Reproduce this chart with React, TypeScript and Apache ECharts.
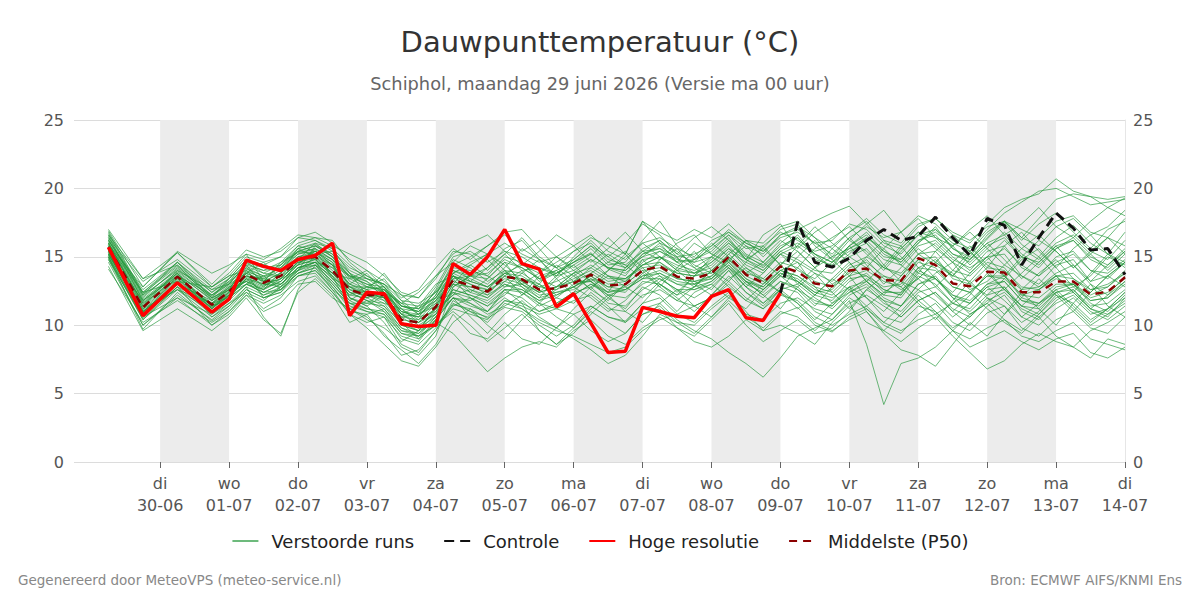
import { useEffect, useRef } from 'react';
import * as echarts from 'echarts';

// Hours relative to di 30-06 00:00
const TIMES = [-18, -6, 6, 18, 24, 30, 36, 42, 48, 54, 60, 66, 72, 78, 84, 90, 96, 102, 108, 114, 120, 126, 132, 138, 144, 150, 156, 162, 168, 174, 180, 186, 192, 198, 204, 210, 216, 222, 228, 234, 240, 246, 252, 258, 264, 270, 276, 282, 288, 294, 300, 306, 312, 318, 324, 330, 336];

const HRES = [15.7, 10.7, 13.1, 10.95, 11.9, 14.75, 14.3, 14.0, 14.8, 15.1, 16.0, 10.7, 12.4, 12.3, 10.1, 9.9, 10.0, 14.5, 13.7, 15.0, 17.0, 14.5, 14.1, 11.35, 12.3, 10.15, 8.0, 8.1, 11.3, 11.0, 10.65, 10.55, 12.1, 12.6, 10.55, 10.35, 12.35];

const CONTROL = [null, null, null, null, null, null, null, null, null, null, null, null, null, null, null, null, null, null, null, null, null, null, null, null, null, null, null, null, null, null, null, null, null, null, null, null, 12.35, 17.55, 14.6, 14.25, 14.9, 16.2, 17.0, 16.2, 16.5, 17.9, 16.4, 15.1, 17.8, 17.3, 14.4, 16.4, 18.2, 17.1, 15.5, 15.6, 13.7];

const P50 = [15.7, 11.3, 13.55, 11.5, 12.45, 13.7, 13.1, 13.6, 14.8, 15.0, 14.0, 12.6, 12.2, 12.2, 10.4, 10.2, 11.35, 13.3, 12.9, 12.45, 13.55, 13.35, 12.6, 12.7, 13.05, 13.7, 12.9, 13.0, 14.0, 14.3, 13.55, 13.4, 13.8, 15.0, 13.7, 13.1, 14.3, 13.9, 13.05, 12.85, 14.0, 14.15, 13.3, 13.25, 14.9, 14.4, 13.05, 12.85, 13.9, 13.85, 12.4, 12.4, 13.2, 13.2, 12.25, 12.45, 13.5];

const RUNS = [
  [16.2, 12.0, 14.2, 12.1, 13.0, 14.5, 14.0, 14.6, 15.3, 15.6, 14.8, 13.5, 13.0, 12.4, 11.2, 11.0, 12.5, 14.2, 14.0, 13.6, 15.0, 14.6, 13.2, 13.8, 14.6, 15.3, 14.1, 13.6, 15.2, 15.8, 14.9, 14.2, 15.0, 16.2, 15.1, 14.3, 15.6, 16.4, 15.0, 14.2, 15.8, 16.6, 15.2, 14.6, 16.0, 17.2, 15.6, 14.8, 16.3, 17.5, 15.9, 15.0, 16.4, 17.3, 16.0, 15.2, 16.8],
  [15.0, 9.7, 12.4, 10.3, 11.2, 12.6, 12.0, 12.4, 13.6, 14.0, 12.8, 11.4, 11.0, 10.6, 8.6, 8.0, 9.6, 11.5, 11.2, 10.5, 11.3, 11.0, 10.0, 9.2, 10.0, 11.4, 10.6, 10.3, 11.6, 12.0, 10.8, 10.2, 11.4, 12.4, 11.0, 9.6, 10.8, 11.3, 10.0, 9.5, 10.6, 11.2, 10.0, 9.4, 10.8, 11.6, 10.2, 9.6, 10.9, 11.4, 9.8, 9.2, 10.4, 11.0, 9.8, 9.4, 10.6],
  [16.5, 11.8, 13.8, 11.2, 12.2, 14.0, 13.4, 13.2, 14.5, 15.4, 14.6, 12.0, 11.4, 10.2, 8.4, 7.8, 9.2, 12.8, 13.6, 13.0, 14.2, 15.6, 14.8, 13.4, 12.2, 13.0, 12.4, 14.2, 15.4, 16.2, 15.0, 13.2, 12.6, 14.0, 12.8, 11.6, 12.6, 14.2, 15.6, 16.4, 17.2, 16.0, 14.4, 13.2, 12.6, 13.8, 14.6, 13.0, 12.2, 13.4, 14.8, 15.6, 14.2, 12.8, 13.6, 15.0, 14.4],
  [15.4, 11.0, 13.0, 11.8, 12.8, 13.2, 12.6, 13.9, 15.2, 15.6, 13.4, 12.2, 12.8, 13.4, 11.8, 10.8, 11.6, 12.4, 11.6, 10.8, 11.4, 12.2, 13.6, 14.0, 12.8, 12.0, 11.0, 11.8, 13.2, 13.0, 12.2, 13.6, 14.6, 15.8, 14.4, 13.8, 15.2, 14.6, 12.8, 11.6, 12.4, 13.2, 12.0, 11.4, 13.0, 13.6, 12.0, 10.8, 11.6, 12.8, 11.0, 10.4, 11.8, 12.6, 11.2, 10.6, 12.0],
  [16.8, 12.4, 14.6, 12.6, 13.4, 14.8, 14.4, 14.0, 15.0, 15.2, 15.4, 14.2, 13.6, 12.8, 11.6, 11.4, 12.0, 13.8, 14.6, 15.2, 16.0, 15.2, 14.6, 15.0, 15.8, 16.6, 15.4, 14.8, 16.0, 16.4, 15.6, 15.0, 16.2, 16.8, 15.8, 15.2, 16.6, 17.2, 16.4, 15.6, 16.8, 17.6, 16.2, 15.8, 17.2, 17.8, 16.6, 16.0, 17.4, 18.6, 19.2, 19.6, 20.7, 19.8, 19.4, 18.6, 19.3],
  [14.8, 10.6, 12.0, 10.8, 11.6, 12.4, 11.8, 12.8, 14.0, 14.4, 13.2, 11.8, 11.2, 11.0, 9.6, 9.4, 10.4, 12.0, 11.4, 11.0, 12.4, 12.0, 11.0, 11.6, 12.4, 12.8, 11.6, 11.4, 12.6, 13.4, 12.6, 12.0, 12.8, 14.0, 12.4, 11.6, 12.8, 12.4, 11.0, 10.4, 11.8, 8.6, 4.2, 7.2, 7.6, 8.4, 9.6, 10.8, 11.6, 10.4, 9.6, 10.8, 12.2, 11.6, 10.4, 11.2, 12.0],
  [16.0, 11.5, 13.6, 11.6, 12.8, 13.8, 13.3, 13.0, 14.2, 14.6, 14.2, 13.0, 12.6, 13.8, 12.2, 11.2, 12.0, 13.6, 12.6, 12.0, 13.0, 12.6, 11.8, 12.6, 13.6, 14.4, 13.6, 13.4, 14.4, 15.0, 14.0, 13.8, 14.2, 15.4, 14.6, 14.0, 15.4, 14.8, 14.0, 13.8, 15.0, 15.6, 14.2, 13.6, 15.2, 16.0, 14.8, 14.2, 15.0, 15.2, 13.6, 13.0, 14.4, 14.8, 13.2, 13.6, 14.6],
  [15.2, 10.8, 13.2, 11.0, 12.0, 13.4, 12.8, 13.6, 15.0, 14.8, 13.6, 12.4, 11.8, 11.6, 10.0, 9.6, 10.2, 9.4, 8.0, 6.6, 7.6, 8.4, 8.8, 8.4, 9.6, 10.4, 9.2, 8.6, 9.8, 10.6, 9.8, 9.2, 10.4, 11.6, 10.0, 8.8, 9.6, 10.4, 9.4, 9.8, 11.0, 12.6, 11.8, 10.6, 11.8, 12.4, 11.0, 10.0, 11.4, 12.2, 10.6, 10.0, 11.2, 12.0, 10.8, 11.2, 12.4],
  [16.4, 12.2, 14.0, 12.0, 12.6, 14.2, 13.6, 14.2, 15.6, 16.0, 15.0, 13.2, 12.6, 11.8, 10.6, 10.8, 12.6, 14.8, 14.2, 13.2, 14.0, 13.8, 13.0, 12.2, 12.8, 13.6, 12.6, 12.4, 13.8, 14.6, 13.6, 12.8, 13.2, 14.4, 13.0, 12.4, 13.6, 13.2, 12.2, 11.8, 13.2, 13.8, 12.6, 12.2, 14.0, 13.4, 12.0, 11.6, 13.0, 13.6, 12.0, 11.6, 12.8, 13.0, 11.8, 12.0, 13.2],
  [15.6, 11.2, 13.4, 11.4, 12.2, 13.4, 13.0, 13.4, 14.6, 14.6, 13.8, 12.8, 12.4, 12.0, 10.2, 9.8, 11.0, 13.0, 12.4, 12.0, 13.2, 12.8, 12.0, 12.4, 12.8, 13.4, 12.4, 12.8, 13.6, 13.8, 13.0, 13.0, 13.4, 14.6, 13.2, 12.6, 13.8, 13.4, 12.4, 12.0, 12.8, 12.0, 10.6, 10.2, 11.4, 11.0, 9.6, 8.4, 9.0, 9.6, 8.8, 8.2, 9.0, 9.4, 8.0, 7.6, 8.4],
  [15.8, 11.6, 13.8, 11.8, 12.6, 13.6, 13.4, 14.0, 15.4, 15.8, 15.2, 13.4, 12.8, 12.6, 11.4, 11.0, 12.2, 14.4, 15.0, 15.8, 16.8, 17.0, 15.6, 14.2, 14.8, 15.8, 14.6, 14.2, 15.6, 16.2, 15.2, 14.6, 15.0, 16.0, 14.8, 14.0, 15.2, 15.8, 14.8, 14.4, 15.6, 16.2, 15.0, 14.8, 16.2, 16.6, 15.2, 14.6, 15.8, 16.4, 15.0, 14.6, 15.8, 16.2, 15.0, 14.4, 15.4],
  [15.0, 10.4, 12.6, 10.6, 11.6, 12.8, 12.2, 12.8, 13.8, 14.4, 12.8, 11.2, 10.6, 9.4, 7.8, 8.2, 9.6, 11.8, 11.0, 10.2, 11.6, 11.2, 10.4, 9.8, 9.0, 8.2, 7.2, 7.8, 9.2, 10.8, 10.2, 10.0, 11.2, 12.2, 10.8, 10.4, 11.6, 12.0, 11.2, 10.8, 12.2, 12.8, 11.6, 11.0, 12.4, 12.8, 11.6, 11.0, 12.2, 12.6, 11.4, 10.8, 12.0, 12.4, 11.2, 10.8, 11.8],
  [16.6, 13.4, 14.4, 12.4, 13.2, 14.6, 14.2, 14.4, 15.8, 16.2, 15.6, 14.4, 13.4, 12.6, 11.0, 10.6, 12.0, 14.0, 13.4, 12.8, 13.8, 14.4, 13.8, 14.6, 15.4, 16.0, 14.8, 14.4, 15.4, 15.6, 14.6, 14.8, 15.4, 16.6, 15.6, 15.8, 16.8, 16.2, 15.4, 15.8, 16.8, 17.8, 16.6, 16.0, 17.4, 17.8, 16.8, 16.2, 17.2, 17.6, 16.4, 15.8, 17.2, 17.8, 16.6, 17.2, 18.4],
  [15.3, 11.0, 13.2, 11.2, 12.4, 13.2, 12.6, 13.2, 14.4, 14.8, 13.6, 12.2, 12.0, 12.4, 10.8, 10.0, 10.8, 12.6, 12.2, 11.8, 12.8, 13.0, 12.4, 12.8, 13.4, 14.0, 13.2, 13.4, 14.4, 14.6, 13.8, 13.6, 14.0, 15.0, 13.6, 13.0, 14.0, 13.6, 12.8, 12.4, 13.6, 14.0, 13.2, 12.8, 14.2, 14.0, 12.8, 12.4, 13.6, 13.4, 12.2, 12.6, 13.4, 13.0, 12.2, 12.8, 13.8],
  [15.9, 11.4, 13.6, 11.4, 12.4, 13.8, 13.2, 13.8, 14.8, 15.2, 14.2, 12.8, 12.2, 11.8, 10.2, 9.6, 10.8, 13.0, 12.8, 12.6, 13.8, 13.6, 12.8, 12.6, 13.2, 13.8, 13.0, 13.2, 14.4, 15.0, 14.2, 13.8, 14.4, 15.6, 14.2, 13.2, 12.4, 11.6, 10.2, 9.6, 10.4, 11.0, 9.6, 8.8, 9.8, 10.6, 9.2, 8.0, 6.8, 7.4, 8.6, 9.4, 8.8, 8.4, 9.6, 10.2, 11.0],
  [14.1, 10.2, 11.8, 10.2, 11.0, 12.2, 11.6, 12.2, 13.2, 13.6, 12.4, 11.0, 10.8, 11.2, 9.8, 9.2, 10.0, 11.2, 10.8, 10.4, 11.8, 11.6, 11.0, 11.4, 12.2, 13.0, 12.2, 12.0, 13.0, 13.6, 13.0, 12.6, 13.0, 14.2, 13.2, 12.8, 14.0, 14.6, 13.8, 13.2, 14.4, 15.0, 14.2, 13.8, 15.2, 15.4, 14.0, 13.6, 14.8, 15.6, 14.4, 13.6, 14.6, 15.2, 14.0, 13.8, 14.8],
  [16.9, 12.8, 15.3, 12.8, 13.6, 15.0, 14.6, 15.0, 16.0, 16.4, 16.2, 14.6, 13.6, 13.0, 11.4, 11.2, 12.8, 15.0, 15.4, 14.6, 15.4, 15.0, 14.2, 13.8, 14.4, 15.2, 14.2, 14.0, 15.0, 15.4, 14.8, 14.6, 15.8, 17.0, 16.0, 15.4, 16.6, 17.0, 16.0, 15.2, 16.4, 17.2, 16.4, 16.8, 18.0, 17.4, 16.2, 15.6, 17.0, 18.2, 19.0, 19.8, 20.0, 19.4, 18.8, 19.0, 19.2],
  [15.5, 11.1, 13.3, 11.3, 12.3, 13.5, 12.9, 13.4, 14.6, 14.9, 13.8, 12.4, 12.2, 12.0, 10.4, 10.2, 11.2, 13.2, 12.8, 12.4, 13.4, 13.0, 12.2, 12.4, 12.6, 13.4, 12.8, 13.0, 14.0, 14.2, 13.4, 13.2, 13.6, 14.8, 13.4, 12.8, 14.0, 13.6, 12.6, 12.2, 13.4, 13.6, 12.8, 13.0, 14.6, 14.2, 12.8, 12.4, 13.6, 13.6, 12.2, 12.0, 13.0, 13.0, 12.0, 12.4, 13.4],
  [15.2, 10.9, 13.0, 11.0, 12.0, 13.0, 12.4, 13.0, 14.2, 14.6, 13.4, 12.0, 11.6, 11.4, 9.8, 9.4, 10.6, 12.4, 12.0, 11.4, 12.6, 12.4, 11.6, 11.2, 10.8, 11.4, 10.6, 10.2, 11.2, 11.6, 10.4, 9.6, 9.0, 8.0, 7.2, 6.2, 7.6, 9.2, 9.8, 10.4, 11.6, 12.2, 11.4, 10.6, 11.8, 12.4, 11.2, 10.6, 11.8, 12.4, 11.2, 10.6, 11.6, 12.2, 11.0, 10.4, 11.4],
  [16.3, 12.1, 14.1, 12.2, 13.1, 14.3, 13.8, 14.4, 15.6, 15.9, 15.2, 13.8, 13.2, 12.4, 10.8, 10.6, 12.2, 14.6, 15.8, 15.2, 14.4, 13.2, 12.4, 13.6, 14.8, 15.8, 15.0, 14.2, 15.0, 16.0, 15.4, 14.4, 13.8, 15.2, 16.2, 16.0, 17.2, 17.6, 16.4, 15.0, 15.6, 16.4, 15.4, 14.8, 16.2, 16.8, 15.8, 14.4, 15.6, 16.8, 15.6, 14.8, 16.0, 16.6, 15.4, 14.8, 16.2],
  [15.1, 10.5, 12.8, 11.6, 12.6, 13.2, 12.2, 12.6, 13.8, 14.2, 12.6, 10.8, 10.2, 10.6, 9.2, 8.8, 10.4, 12.8, 13.6, 14.2, 15.2, 14.0, 12.6, 11.6, 12.4, 13.8, 14.6, 15.4, 14.2, 13.0, 12.2, 12.8, 14.0, 15.2, 14.0, 13.2, 14.4, 15.4, 14.2, 13.0, 13.8, 14.8, 13.4, 12.6, 13.4, 14.6, 13.8, 12.6, 13.2, 14.4, 13.6, 12.8, 13.8, 14.4, 13.0, 12.2, 13.6],
  [15.8, 11.7, 13.7, 11.9, 12.9, 13.9, 13.5, 14.2, 15.2, 15.4, 14.6, 13.0, 12.4, 12.2, 10.6, 10.4, 11.8, 13.8, 13.2, 12.8, 13.6, 13.4, 12.8, 13.2, 13.8, 14.2, 13.4, 13.4, 14.2, 14.4, 13.8, 13.6, 13.8, 14.8, 13.8, 13.4, 14.6, 14.2, 13.2, 12.8, 14.2, 14.6, 13.6, 13.2, 14.8, 15.0, 13.4, 13.0, 14.2, 14.0, 12.8, 12.6, 13.6, 13.8, 12.6, 12.8, 14.0],
  [14.6, 10.0, 12.2, 10.4, 11.4, 12.6, 12.0, 12.6, 13.6, 14.0, 12.6, 11.6, 11.2, 10.8, 9.0, 8.6, 9.8, 11.6, 11.0, 10.6, 11.8, 11.4, 10.8, 11.2, 11.8, 12.2, 11.2, 11.0, 12.2, 12.6, 11.8, 11.4, 12.0, 13.2, 12.0, 11.2, 12.2, 11.8, 10.6, 10.0, 10.8, 11.4, 10.2, 9.6, 10.4, 10.8, 9.6, 9.0, 9.8, 10.4, 9.2, 8.8, 9.6, 10.2, 9.0, 8.6, 8.2],
  [16.1, 11.9, 13.9, 12.0, 12.7, 14.1, 13.6, 13.6, 14.8, 15.4, 14.8, 13.6, 13.4, 13.0, 11.8, 11.6, 12.4, 13.6, 13.0, 12.6, 13.2, 14.0, 14.2, 13.6, 14.0, 14.8, 14.2, 13.8, 14.8, 15.0, 14.4, 14.0, 14.6, 15.6, 14.8, 14.2, 15.4, 16.0, 15.2, 14.6, 15.4, 16.0, 14.8, 14.4, 15.8, 16.2, 15.0, 14.0, 15.4, 15.8, 14.2, 13.6, 15.0, 15.4, 14.0, 13.4, 14.6],
  [15.6, 11.3, 13.5, 11.5, 12.5, 13.6, 13.0, 13.0, 14.0, 14.6, 13.0, 11.6, 11.6, 12.4, 11.0, 10.6, 11.0, 12.2, 12.6, 12.2, 13.0, 12.4, 11.4, 12.0, 13.0, 13.2, 12.2, 12.6, 13.4, 13.4, 12.6, 12.6, 13.2, 14.2, 12.8, 12.0, 13.2, 12.6, 11.8, 11.4, 12.8, 13.2, 12.2, 12.0, 13.6, 13.0, 11.6, 11.2, 12.6, 12.8, 11.4, 11.2, 12.4, 12.6, 11.4, 11.6, 12.6],
  [16.0, 11.6, 13.4, 11.2, 12.2, 13.6, 13.2, 13.8, 15.0, 15.4, 14.4, 12.6, 12.0, 12.6, 11.4, 11.0, 11.8, 13.4, 13.6, 13.8, 14.8, 14.2, 13.4, 14.0, 14.6, 15.6, 14.4, 14.6, 16.2, 17.6, 15.8, 14.8, 15.6, 16.6, 15.2, 14.6, 16.0, 17.0, 17.6, 18.2, 18.7, 17.4, 16.0, 15.6, 16.8, 16.4, 15.2, 14.8, 16.0, 16.6, 15.2, 14.4, 15.6, 16.2, 14.8, 14.2, 15.4],
  [15.4, 11.0, 13.1, 11.6, 12.4, 13.0, 12.6, 13.4, 14.6, 15.0, 14.0, 12.6, 12.4, 12.0, 10.0, 9.6, 11.2, 13.6, 13.2, 12.8, 13.8, 13.2, 12.4, 12.8, 13.2, 13.2, 12.4, 12.6, 13.4, 13.8, 13.2, 13.0, 13.6, 14.6, 13.4, 12.6, 13.8, 13.2, 12.4, 12.6, 14.0, 13.6, 12.4, 12.4, 14.2, 14.8, 13.6, 13.2, 14.6, 14.2, 12.6, 12.8, 13.6, 13.4, 12.6, 13.0, 13.8],
  [15.0, 10.7, 12.8, 10.8, 11.8, 13.0, 12.4, 12.6, 13.8, 14.2, 13.0, 11.6, 11.0, 10.8, 9.4, 9.0, 10.4, 12.0, 11.6, 11.0, 12.0, 11.2, 10.2, 9.6, 9.2, 8.6, 8.0, 8.4, 9.6, 10.4, 10.8, 11.4, 12.0, 13.0, 11.8, 11.2, 12.6, 13.0, 12.0, 11.2, 12.4, 13.0, 11.8, 11.4, 13.0, 13.4, 12.2, 11.6, 12.8, 13.2, 11.8, 11.4, 12.6, 13.0, 11.6, 11.0, 12.2],
  [16.7, 12.3, 14.3, 12.2, 13.0, 14.4, 14.0, 14.2, 15.4, 15.8, 15.0, 13.6, 13.0, 12.8, 11.4, 11.2, 12.4, 14.0, 13.6, 13.4, 14.6, 14.2, 13.4, 13.8, 14.6, 15.2, 14.2, 14.0, 15.2, 15.6, 15.0, 15.2, 15.8, 16.8, 16.0, 15.4, 16.4, 16.8, 16.0, 16.2, 17.4, 17.0, 15.8, 15.2, 16.6, 17.0, 16.0, 15.4, 16.8, 17.6, 17.0, 16.4, 17.6, 18.0, 16.8, 16.4, 17.8],
  [15.3, 10.9, 13.0, 11.3, 12.1, 13.3, 12.7, 13.2, 14.4, 14.8, 13.8, 12.4, 11.8, 11.2, 9.6, 9.2, 10.6, 12.6, 12.2, 11.6, 12.6, 12.6, 11.8, 12.2, 12.8, 13.6, 12.8, 12.6, 13.6, 14.0, 13.4, 13.2, 13.4, 14.4, 13.2, 12.2, 13.2, 12.8, 11.6, 11.4, 12.6, 13.4, 12.6, 12.2, 13.8, 13.4, 12.2, 11.8, 13.0, 13.2, 11.8, 11.6, 12.4, 12.8, 11.8, 12.0, 13.0],
  [17.0, 13.4, 15.3, 13.0, 14.2, 15.5, 15.0, 15.4, 16.4, 16.8, 16.0, 14.8, 14.0, 13.2, 12.0, 12.6, 14.2, 15.6, 14.8, 15.8, 16.6, 15.4, 16.2, 15.0, 14.2, 15.0, 16.4, 15.2, 17.6, 16.0, 14.6, 16.0, 15.2, 16.4, 14.8, 16.6, 17.4, 15.6, 16.8, 17.6, 16.2, 17.4, 18.4, 16.8, 17.8, 16.4, 15.8, 17.0, 18.0, 16.6, 17.4, 18.6, 17.2, 16.4, 17.6, 18.6, 18.0],
  [14.3, 9.6, 11.2, 9.6, 10.6, 12.0, 10.4, 9.4, 12.4, 13.4, 12.2, 10.2, 10.8, 9.2, 8.2, 7.2, 8.6, 10.8, 9.4, 9.0, 10.2, 9.0, 8.6, 9.8, 10.8, 9.6, 8.8, 9.4, 10.8, 11.2, 9.8, 8.8, 8.4, 9.2, 10.4, 9.6, 10.0, 9.4, 8.6, 10.2, 11.4, 10.2, 9.6, 10.8, 12.2, 11.0, 9.8, 10.6, 12.0, 11.4, 10.2, 11.0, 12.4, 11.2, 10.0, 10.8, 11.6],
  [15.9, 12.8, 15.4, 13.8, 14.4, 15.2, 14.8, 15.6, 16.6, 16.4, 15.8, 15.2, 14.6, 13.6, 12.4, 12.0, 13.6, 15.2, 16.0, 16.6, 15.4, 14.4, 15.4, 16.6, 15.8, 14.6, 15.6, 16.8, 15.4, 14.8, 16.0, 16.6, 15.2, 14.6, 16.2, 15.6, 14.4, 15.8, 17.2, 16.0, 15.0, 14.2, 15.6, 16.8, 15.2, 14.4, 13.6, 15.2, 16.4, 17.6, 16.2, 17.4, 18.2, 16.8, 15.6, 17.0, 17.6],
  [15.1, 11.8, 13.8, 10.6, 11.4, 12.8, 10.6, 9.2, 12.6, 14.4, 13.6, 11.2, 10.4, 9.8, 8.8, 9.6, 11.4, 13.4, 12.0, 11.0, 12.6, 11.6, 9.6, 8.6, 9.4, 10.8, 12.0, 11.2, 12.8, 12.2, 11.0, 12.4, 13.0, 12.0, 11.2, 12.6, 13.6, 12.6, 11.4, 12.8, 13.6, 12.0, 11.0, 12.4, 13.4, 12.2, 11.0, 12.2, 13.8, 12.6, 11.4, 12.6, 13.6, 12.4, 11.2, 12.2, 13.2],
  [16.4, 13.2, 14.8, 12.8, 13.8, 15.2, 13.2, 14.6, 15.8, 15.4, 14.4, 13.0, 13.8, 12.4, 11.6, 12.4, 13.6, 14.6, 13.2, 14.2, 15.6, 16.2, 14.8, 13.6, 15.0, 16.2, 15.0, 16.0, 17.4, 16.6, 15.2, 16.4, 17.2, 16.2, 14.8, 15.6, 17.0, 17.4, 15.8, 14.8, 16.2, 15.4, 14.2, 15.6, 16.8, 15.6, 14.6, 15.8, 14.4, 13.6, 15.0, 16.2, 15.4, 14.2, 15.2, 16.4, 15.8],
  [14.9, 10.4, 12.8, 10.0, 11.0, 12.4, 11.2, 12.0, 13.6, 13.8, 12.4, 10.8, 9.8, 8.6, 7.4, 7.0, 8.4, 10.2, 11.2, 10.0, 9.0, 10.4, 11.6, 10.6, 9.8, 11.2, 12.2, 11.0, 10.2, 11.6, 12.6, 11.4, 10.6, 12.0, 13.2, 12.2, 11.2, 12.8, 13.8, 12.4, 11.2, 12.6, 13.6, 12.8, 11.6, 10.4, 11.8, 13.2, 12.0, 10.8, 12.0, 13.4, 12.2, 11.0, 12.4, 13.6, 12.8],
  [15.7, 11.4, 14.0, 12.6, 13.0, 13.8, 14.6, 13.4, 14.0, 15.8, 15.0, 13.8, 12.2, 11.6, 11.2, 10.4, 11.2, 12.2, 13.8, 14.8, 13.6, 12.2, 13.0, 14.4, 13.6, 12.6, 14.0, 15.2, 13.8, 12.8, 14.2, 15.4, 14.0, 13.2, 14.6, 15.8, 14.4, 13.0, 14.2, 15.6, 14.6, 13.2, 14.4, 15.8, 14.2, 12.8, 14.0, 15.4, 14.0, 12.6, 13.8, 15.0, 13.6, 12.4, 13.8, 15.2, 14.2],
  [15.5, 11.0, 12.6, 11.6, 12.0, 13.0, 13.6, 12.6, 14.2, 14.6, 13.4, 12.8, 12.0, 11.4, 10.2, 9.0, 10.0, 11.4, 12.0, 11.4, 12.2, 13.4, 13.0, 12.0, 11.6, 12.8, 13.6, 12.8, 12.0, 13.2, 14.0, 13.0, 12.2, 13.4, 14.2, 13.4, 12.4, 11.2, 12.2, 13.4, 12.6, 11.4, 12.4, 13.2, 11.8, 10.8, 11.6, 12.4, 11.2, 10.2, 9.4, 10.6, 9.2, 8.4, 7.6, 9.0, 8.6],
  [16.2, 12.4, 13.2, 12.8, 13.6, 14.0, 12.8, 13.8, 15.6, 15.0, 13.8, 13.4, 14.0, 12.8, 10.8, 11.4, 13.0, 13.6, 12.4, 13.4, 14.6, 13.0, 12.0, 13.4, 14.4, 13.2, 12.0, 13.0, 14.8, 13.6, 12.4, 13.6, 15.0, 14.2, 12.8, 13.8, 15.2, 14.0, 13.4, 14.6, 15.8, 14.4, 13.0, 14.2, 15.6, 14.6, 13.6, 14.8, 16.0, 14.8, 13.4, 14.6, 15.8, 14.4, 13.2, 14.4, 15.6],
  [16.6, 12.2, 14.6, 12.4, 13.4, 14.8, 14.4, 15.0, 16.4, 16.2, 15.4, 14.0, 13.4, 13.0, 12.2, 12.0, 13.4, 15.4, 15.2, 14.0, 15.2, 16.4, 15.0, 14.2, 15.4, 16.4, 15.8, 15.2, 17.6, 16.8, 16.2, 17.0, 16.4, 17.4, 16.2, 15.0, 16.2, 15.4, 14.2, 15.0, 16.4, 15.2, 14.0, 15.4, 16.6, 15.8, 14.6, 13.8, 15.0, 16.2, 15.0, 14.2, 15.6, 16.4, 15.2, 14.0, 15.2],
  [15.2, 10.8, 13.6, 11.4, 11.8, 13.8, 12.0, 12.4, 14.0, 15.0, 14.4, 12.0, 11.4, 12.2, 10.6, 9.8, 10.6, 12.0, 10.6, 9.4, 10.8, 11.8, 10.6, 9.8, 11.2, 12.4, 11.4, 10.2, 11.6, 13.0, 12.0, 11.0, 12.2, 13.6, 12.4, 11.4, 12.6, 11.6, 10.4, 11.6, 12.8, 11.0, 9.4, 8.2, 7.8, 7.0, 8.6, 10.2, 9.2, 10.8, 12.4, 11.2, 10.0, 11.6, 13.0, 11.4, 10.6],
  [15.8, 12.4, 14.4, 11.8, 12.6, 14.6, 13.8, 13.6, 14.4, 15.6, 14.8, 12.8, 12.8, 12.6, 11.6, 10.8, 11.4, 13.8, 14.4, 13.6, 12.8, 13.8, 14.8, 14.2, 13.2, 14.2, 15.2, 14.4, 13.4, 14.8, 15.6, 14.2, 13.4, 14.8, 15.8, 14.6, 13.6, 15.0, 16.2, 14.8, 13.6, 15.0, 16.2, 15.0, 13.8, 15.4, 16.6, 15.4, 14.2, 15.8, 16.8, 15.4, 14.2, 15.6, 16.6, 15.2, 14.6],
  [14.8, 10.0, 12.0, 10.0, 10.8, 12.2, 11.0, 11.6, 13.0, 13.2, 12.0, 11.2, 11.8, 11.0, 9.4, 9.2, 10.0, 11.0, 10.0, 8.8, 9.8, 10.8, 9.6, 8.6, 9.8, 11.0, 10.2, 9.4, 10.8, 11.4, 10.2, 9.4, 10.6, 11.8, 10.6, 9.8, 11.0, 10.6, 9.6, 10.8, 12.0, 11.2, 10.2, 11.4, 12.6, 11.8, 10.6, 11.6, 12.8, 11.8, 10.6, 11.6, 12.6, 11.4, 10.2, 11.2, 12.4],
  [16.0, 11.8, 13.6, 12.2, 13.2, 14.2, 13.2, 14.4, 15.4, 15.2, 14.4, 13.6, 13.2, 12.0, 10.8, 10.2, 11.6, 13.6, 13.0, 12.2, 13.6, 14.6, 13.4, 12.8, 13.8, 14.8, 13.6, 13.2, 14.6, 15.4, 14.6, 13.8, 14.8, 16.0, 15.0, 14.4, 15.6, 16.6, 15.2, 14.6, 15.8, 16.8, 15.4, 14.6, 16.0, 17.0, 15.6, 15.0, 16.6, 17.6, 16.4, 17.8, 19.2, 19.6, 19.4, 19.2, 19.4],
  [15.4, 11.2, 12.6, 11.0, 12.2, 13.4, 12.4, 13.0, 14.2, 14.4, 13.2, 11.8, 12.6, 12.8, 11.2, 10.2, 10.8, 12.0, 11.8, 12.6, 14.0, 12.8, 11.6, 12.8, 13.8, 12.6, 11.8, 13.0, 14.0, 12.8, 11.8, 12.8, 14.0, 12.8, 11.8, 13.0, 14.4, 13.2, 12.2, 13.4, 14.6, 13.2, 12.2, 13.6, 14.8, 13.4, 12.4, 13.8, 15.0, 13.6, 12.6, 13.8, 14.8, 13.4, 12.4, 13.6, 14.6],
  [16.2, 12.6, 14.6, 12.0, 13.4, 14.4, 13.0, 12.8, 14.8, 16.0, 15.6, 13.8, 12.8, 12.4, 11.0, 10.8, 11.8, 13.0, 14.4, 15.2, 14.0, 13.0, 13.8, 15.0, 14.0, 13.2, 14.0, 15.0, 16.0, 15.0, 14.0, 14.8, 16.0, 15.0, 13.8, 14.6, 15.8, 16.4, 15.2, 14.2, 15.2, 16.4, 15.6, 14.4, 13.4, 14.6, 15.8, 16.8, 15.6, 14.4, 15.6, 16.6, 15.4, 14.2, 15.4, 16.4, 15.2]
];

const TICK_HOURS = [0, 24, 48, 72, 96, 120, 144, 168, 192, 216, 240, 264, 288, 312, 336];
const TICK_DAYS = ['di', 'wo', 'do', 'vr', 'za', 'zo', 'ma', 'di', 'wo', 'do', 'vr', 'za', 'zo', 'ma', 'di'];
const TICK_DATES = ['30-06', '01-07', '02-07', '03-07', '04-07', '05-07', '06-07', '07-07', '08-07', '09-07', '10-07', '11-07', '12-07', '13-07', '14-07'];
const SHADED_DAY_STARTS = [0, 48, 96, 144, 192, 240, 288];

const FONT = 'DejaVu Sans';

function toPairs(values: (number | null)[]) {
  const out: [number, number][] = [];
  values.forEach((v, i) => {
    if (v !== null && v !== undefined) out.push([TIMES[i], v]);
  });
  return out;
}

export default function App() {
  const ref = useRef<HTMLDivElement>(null);
  useEffect(() => {
    if (!ref.current) return;
    const chart = echarts.init(ref.current, undefined, { renderer: 'svg' });
    const green = 'rgba(34,150,56,0.66)';
    const runSeries = RUNS.map((r) => ({
      type: 'line',
      name: 'Verstoorde runs',
      data: toPairs(r),
      symbol: 'none',
      silent: true,
      lineStyle: { width: 1, color: green },
      itemStyle: { color: green },
    }));
    chart.setOption({
      animation: false,
      textStyle: { fontFamily: FONT },
      title: {
        text: 'Dauwpunttemperatuur (°C)',
        subtext: 'Schiphol, maandag 29 juni 2026 (Versie ma 00 uur)',
        left: 'center',
        top: 22,
        itemGap: 18,
        textStyle: { fontFamily: FONT, fontSize: 29, fontWeight: 'normal', color: '#333' },
        subtextStyle: { fontFamily: FONT, fontSize: 17.8, color: '#666' },
      },
      legend: {
        top: 527,
        left: 'center',
        itemWidth: 26,
        itemHeight: 12,
        itemGap: 29,
        itemStyle: { opacity: 0 },
        textStyle: { fontFamily: FONT, fontSize: 18, color: '#222', padding: [0, 0, 0, 8] },
        data: ['Verstoorde runs', 'Controle', 'Hoge resolutie', 'Middelste (P50)'],
      },
      grid: { left: 74, right: 75, top: 120, bottom: 138, containLabel: false },
      xAxis: {
        type: 'value',
        min: -30,
        max: 336,
        axisLine: { show: false },
        splitLine: { show: false },
        axisTick: { show: true, customValues: TICK_HOURS, length: 6, lineStyle: { color: '#666' } },
        axisLabel: {
          customValues: TICK_HOURS,
          fontFamily: FONT,
          fontSize: 16,
          color: '#555',
          lineHeight: 22,
          margin: 10,
          formatter: (v: number) => {
            const i = TICK_HOURS.indexOf(v);
            return i >= 0 ? TICK_DAYS[i] + '\n' + TICK_DATES[i] : '';
          },
        },
      },
      yAxis: [
        {
          type: 'value',
          min: 0,
          max: 25,
          interval: 5,
          position: 'left',
          axisLine: { show: false },
          axisTick: { show: false },
          axisLabel: { fontFamily: FONT, fontSize: 16, color: '#555', margin: 10 },
          splitLine: { lineStyle: { color: '#dcdcdc', width: 1 } },
        },
        {
          type: 'value',
          min: 0,
          max: 25,
          interval: 5,
          position: 'right',
          axisLine: { show: true, lineStyle: { color: '#e6e6e6' } },
          axisTick: { show: false },
          axisLabel: { fontFamily: FONT, fontSize: 16, color: '#555', margin: 8 },
          splitLine: { show: false },
        },
      ],
      graphic: [
        {
          type: 'text',
          left: 18,
          top: 573,
          style: { text: 'Gegenereerd door MeteoVPS (meteo-service.nl)', fontFamily: FONT, fontSize: 13.5, fill: '#888' },
        },
        {
          type: 'text',
          right: 18,
          top: 573,
          style: { text: 'Bron: ECMWF AIFS/KNMI Ens', fontFamily: FONT, fontSize: 13.5, fill: '#888' },
        },
      ],
      series: [
        {
          type: 'line',
          name: 'shade',
          data: [],
          silent: true,
          markArea: {
            silent: true,
            itemStyle: { color: '#ececec' },
            data: SHADED_DAY_STARTS.map((h) => [{ xAxis: h }, { xAxis: h + 24 }]),
          },
        },
        ...runSeries,
        {
          type: 'line',
          name: 'Middelste (P50)',
          data: toPairs(P50),
          symbol: 'none',
          lineStyle: { width: 2.5, color: '#8b0000', type: [8, 6] },
          itemStyle: { color: '#8b0000' },
        },
        {
          type: 'line',
          name: 'Controle',
          data: toPairs(CONTROL),
          symbol: 'none',
          lineStyle: { width: 3, color: '#111', type: [10, 6] },
          itemStyle: { color: '#111' },
        },
        {
          type: 'line',
          name: 'Hoge resolutie',
          data: toPairs(HRES),
          symbol: 'none',
          lineStyle: { width: 3.5, color: '#ff0000' },
          itemStyle: { color: '#ff0000' },
        },
      ],
    });
    return () => chart.dispose();
  }, []);
  return <div ref={ref} style={{ position: 'absolute', left: 0, top: 0, width: 1200, height: 600 }} />;
}
